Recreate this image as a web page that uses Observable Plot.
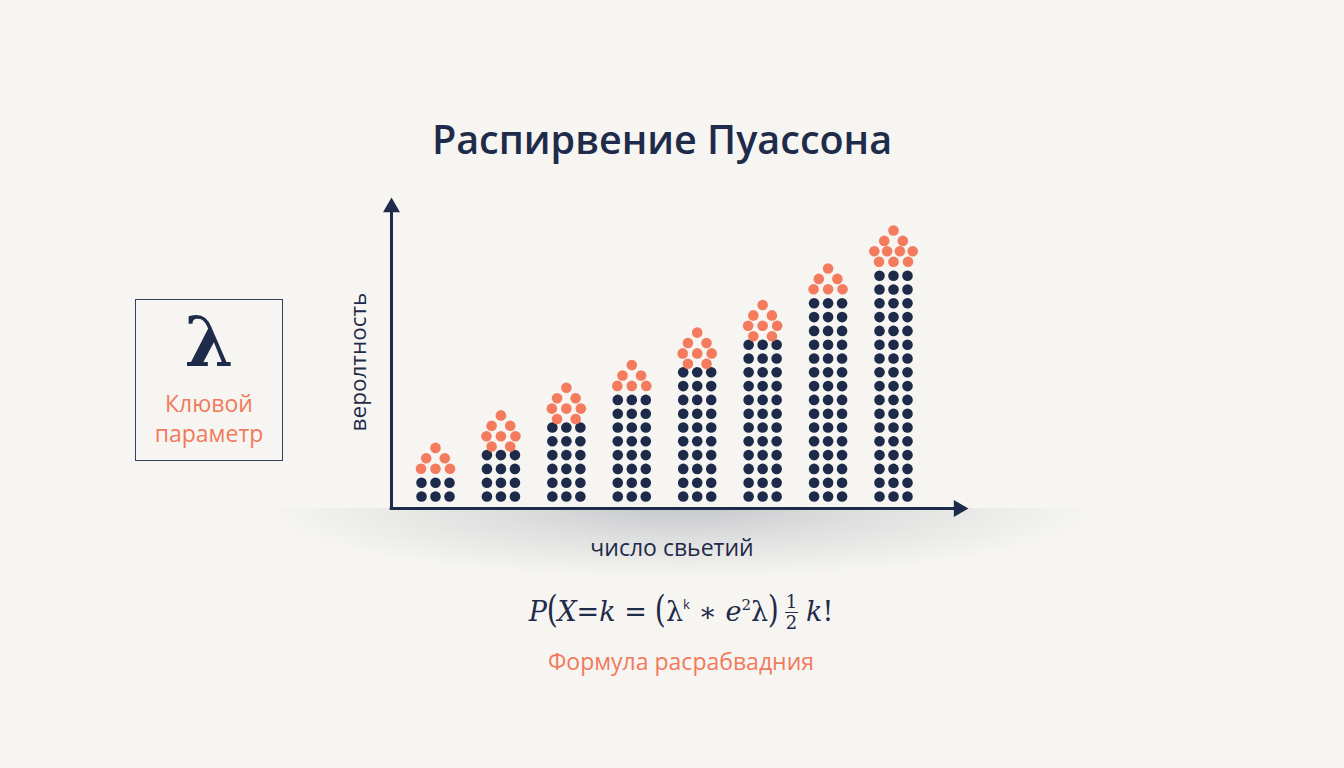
<!DOCTYPE html>
<html><head><meta charset="utf-8">
<script src="https://cdn.jsdelivr.net/npm/d3@7"></script>
<script src="https://cdn.jsdelivr.net/npm/@observablehq/plot@0.6"></script>
<style>
html,body{margin:0;padding:0;background:#f6f5f1;}
#page{position:relative;width:1344px;height:768px;overflow:hidden;background:#f6f5f1;font-family:"Open Sans","Noto Sans",sans-serif;color:#1f2b4a;}
#shadow{position:absolute;left:280px;top:508px;width:800px;height:70px;
  background:radial-gradient(ellipse 52% 100% at 50% 0%, rgba(160,163,172,0.55) 0%, rgba(185,188,195,0.38) 45%, rgba(246,245,241,0) 100%);}
#chart{position:absolute;left:0;top:0;}
.t{position:absolute;text-align:center;white-space:nowrap;}
#title{left:262px;width:800px;top:115px;font-size:39.5px;font-weight:600;line-height:48px;color:#1f2b4a;}
#ylab{left:258px;width:200px;top:347px;font-size:22.5px;line-height:30px;transform:rotate(-90deg);color:#1f2b4a;}
#xlab{left:522px;width:300px;top:531px;font-size:23px;line-height:32px;color:#1f2b4a;}
#formula{left:431px;width:500px;top:590px;font-size:27px;line-height:44px;font-family:"DejaVu Serif","Liberation Serif",serif;color:#1f2b4a;}
#formula i{font-style:italic;}
#formula .p{display:inline-block;transform:scale(1.05,1.4);transform-origin:50% 62%;}
#formula sup{font-size:13px;vertical-align:12px;line-height:0;font-family:"Open Sans",sans-serif;}
#formula sup.s{font-size:15px;font-family:"DejaVu Serif",serif;vertical-align:11px;}
.frac{display:inline-block;vertical-align:-8px;text-align:center;font-size:18px;line-height:16px;margin:0 8px 0 6px;}
.frac span{display:block;padding:0 1px;}
.frac .num{border-bottom:1.3px solid #1f2b4a;padding-bottom:2px;margin-bottom:2px;}
#caption{left:431px;width:500px;top:645px;font-size:23px;line-height:32px;color:#f27a5c;}
#box{position:absolute;left:135px;top:299px;width:146px;height:160px;border:1.6px solid #33415f;}
#lam{left:109px;width:200px;top:298px;font-size:70px;line-height:88px;font-weight:700;font-family:"DejaVu Serif",serif;color:#1f2b4a;}
#kl{left:109px;width:200px;top:388px;font-size:23px;line-height:30px;color:#f27a5c;}
</style></head><body>
<div id="page">
  <div id="shadow"></div>
  <div id="chart"></div>
  <div class="t" id="title"></div>
  <div class="t" id="ylab"></div>
  <div class="t" id="xlab"></div>
  <div class="t" id="formula"><i>P</i><span class="p">(</span><i>X</i>=<i>k</i> = <span class="p">(</span>λ<sup>k</sup> ∗ <i>e</i><sup class="s">2</sup>λ<span class="p">)</span><span class="frac"><span class="num">1</span><span>2</span></span><i>k</i>!</div>
  <div class="t" id="caption"></div>
  <div id="box"></div>
  <div class="t" id="lam">λ</div>
  <div class="t" id="kl"></div>
</div>
<script>
// ---- data ----
const ks = [0, 1, 2, 3, 4, 5, 6, 7];
const darkRows = [2, 4, 6, 8, 10, 12, 15, 17];          // dark dot rows per column (3 dots per row)
const capRows = [[3,2,1],[2,3,2,1],[2,3,2,1],[3,2,1],[2,3,2,1],[2,3,2,1],[3,2,1],[3,4,2,1]]; // orange cap, bottom→top
const titleText = "Распирвение Пуассона";
const xLabel = "число свьетий";
const yLabel = "веролтность";
const captionText = "Формула расрабвадния";
const boxLines = ["Клювой", "параметр"];

document.getElementById("title").textContent = titleText;
document.getElementById("xlab").textContent = xLabel;
document.getElementById("ylab").textContent = yLabel;
document.getElementById("caption").textContent = captionText;
document.getElementById("kl").innerHTML = boxLines.join("<br>");

// ---- layout constants ----
const pxPerK = (893 - 435) / 7;
const pxPerRow = 13.8;
const colSp = 14 / pxPerK;                 // horizontal dot spacing (k units)
const rowSpacingBy = {1: 0, 2: 18.6, 3: 14.5, 4: 12.8};

const dark = [];
ks.forEach((k, i) => {
  for (let r = 0; r < darkRows[i]; r++)
    for (let c = -1; c <= 1; c++) dark.push({x: k + c * colSp, y: r});
});
const orange = [];
ks.forEach((k, i) => {
  let y = darkRows[i] - 1;
  capRows[i].forEach((n, j) => {
    if (j === 0) y += (n % 2 === 1 ? 14 : 8.5) / pxPerRow;
    else y += 10.4 / pxPerRow;
    const sp = rowSpacingBy[n] / pxPerK;
    for (let m = 0; m < n; m++) orange.push({x: k + (m - (n - 1) / 2) * sp, y});
  });
});

const xOrigin = (391 - 435) / pxPerK;
const yOrigin = -12 / pxPerRow;
const xTipC = (958.2 - 435) / pxPerK;
const yTipC = (496 - 206.8) / pxPerRow;

const triUp = {draw(ctx, size){ const s = Math.sqrt(size / 124.7); ctx.moveTo(0, -9.8*s); ctx.lineTo(8.5*s, 4.9*s); ctx.lineTo(-8.5*s, 4.9*s); ctx.closePath(); }};
const triRight = {draw(ctx, size){ const s = Math.sqrt(size / 124.7); ctx.moveTo(9.8*s, 0); ctx.lineTo(-4.9*s, -8.5*s); ctx.lineTo(-4.9*s, 8.5*s); ctx.closePath(); }};

const navy = "#1f2b4a";
const chart = Plot.plot({
  width: 1344, height: 768, margin: 0,
  style: {background: "transparent", overflow: "visible"},
  x: {domain: [0, 7], range: [435, 893], axis: null},
  y: {domain: [0, 16], range: [496, 496 - 16 * pxPerRow], axis: null},
  marks: [
    Plot.ruleY([yOrigin], {x1: xOrigin - 0.02, x2: xTipC, stroke: navy, strokeWidth: 3}),
    Plot.ruleX([xOrigin], {y1: yOrigin, y2: yTipC, stroke: navy, strokeWidth: 3}),
    Plot.dot([{x: xOrigin, y: yTipC}], {x: "x", y: "y", symbol: triUp, r: 6.3, fill: navy, stroke: "none"}),
    Plot.dot([{x: xTipC, y: yOrigin}], {x: "x", y: "y", symbol: triRight, r: 6.3, fill: navy, stroke: "none"}),
    Plot.dot(dark, {x: "x", y: "y", r: 5.3, fill: "#1e2a4a", stroke: "none"}),
    Plot.dot(orange, {x: "x", y: "y", r: 5.3, fill: "#f47b5e", stroke: "none"})
  ]
});
document.getElementById("chart").appendChild(chart);
</script>
</body></html>
